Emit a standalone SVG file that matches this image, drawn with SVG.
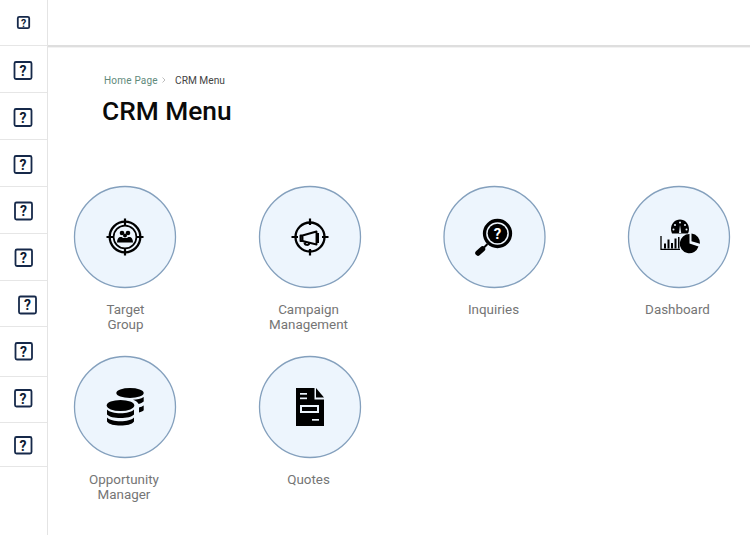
<svg xmlns="http://www.w3.org/2000/svg" width="750" height="535" viewBox="0 0 750 535">
<style>
text{font-family:Roboto,"Liberation Sans",sans-serif}
.sep{stroke:#e6e6e6;stroke-width:1}
.box{fill:#fff;stroke:#16294a;stroke-width:1.8}
.q{font-size:14px;font-weight:700;fill:#0d1b33;text-anchor:middle}
.disc{fill:#edf5fd;stroke:#84a0bd;stroke-width:1.3}
.lab{font-size:13.400px;fill:#757575;text-anchor:middle}
.k{fill:#000}
.o{fill:none;stroke:#000}
</style>
<rect width="750" height="535" fill="#fff"/>
<g id="chrome">
<rect x="47" y="0" width="1" height="535" fill="#e4e4e4"/>
<rect x="48" y="45" width="702" height="2" fill="#dedede"/>
<rect x="48" y="47" width="702" height="1" fill="#f2f2f2"/>
<path class="sep" d="M0 45.500H47M0 92.500H47M0 139.500H47M0 186.500H47M0 233.500H47M0 280.500H47M0 326.500H47M0 376.500H47M0 422.500H47M0 466.500H47"/>
</g>
<g id="sidebar">
<g id="s0"><rect class="box" x="17.800" y="16.800" width="11.400" height="11.400" rx="1.500" stroke-width="1.300"/><text x="23.500" y="26.500" class="q" style="font-size:10.500px">?</text></g>
<g id="s1"><rect class="box" x="14.500" y="62" width="17" height="17" rx="1.500"/><text x="23" y="75.500" class="q">?</text></g>
<g id="s2"><rect class="box" x="14.500" y="109" width="17" height="17" rx="1.500"/><text x="23" y="122.500" class="q">?</text></g>
<g id="s3"><rect class="box" x="14.500" y="156" width="17" height="17" rx="1.500"/><text x="23" y="169.500" class="q">?</text></g>
<g id="s4"><rect class="box" x="15" y="202.500" width="17" height="17" rx="1.500"/><text x="23.500" y="216" class="q">?</text></g>
<g id="s5"><rect class="box" x="15.500" y="249.500" width="16.500" height="16.500" rx="1.500"/><text x="23.500" y="262.500" class="q">?</text></g>
<g id="s6"><rect class="box" x="19" y="296.500" width="17" height="17" rx="1.500"/><text x="27.500" y="310" class="q">?</text></g>
<g id="s7"><rect class="box" x="15.500" y="343" width="16.500" height="16.500" rx="1.500"/><text x="23.500" y="356.500" class="q">?</text></g>
<g id="s8"><rect class="box" x="15" y="390" width="16.500" height="16.500" rx="1.500"/><text x="23" y="403.500" class="q">?</text></g>
<g id="s9"><rect class="box" x="15" y="437" width="16.500" height="16.500" rx="1.500"/><text x="23" y="450.500" class="q">?</text></g>
</g>
<g id="header">
<text x="104" y="83.500" font-size="10" fill="#5f8a7b" letter-spacing=".2">Home Page</text>
<path d="M162.500 77.500l2.500 2.500-2.500 2.500" fill="none" stroke="#b5b5b5" stroke-width=".9"/>
<text x="175" y="83.500" font-size="10.200" fill="#444">CRM Menu</text>
<text x="102" y="120" font-size="26.300" font-weight="500" fill="#0a0a0a">CRM Menu</text>
</g>
<g id="target-group">
<circle class="disc" cx="125" cy="237" r="50.500"/>
<g class="o"><circle cx="125" cy="237" r="15.300" stroke-width="2.300"/><circle cx="125" cy="237" r="11.400" stroke-width="1.700"/><path d="M125 218.500v7M125 248.500v7M106.500 237h7M136.500 237h7" stroke-width="2.200"/></g>
<g class="k"><circle cx="122" cy="233" r="2.300"/><circle cx="128" cy="233" r="2.300"/><circle cx="125" cy="235.500" r="2"/><path d="M117 242.500c0-3.500 1.500-5.500 3.500-5.500 1.500 0 2 .5 2.500 1h4c.5-.5 1-1 2.500-1 2 0 3.500 2 3.500 5.500z"/></g>
<text class="lab" x="125.500" y="314">Target</text><text class="lab" x="125.500" y="329">Group</text>
</g>
<g id="campaign-management">
<circle class="disc" cx="310" cy="237" r="50.500"/>
<g class="o"><circle cx="310" cy="237" r="14.500" stroke-width="2.300"/><path d="M310 218.500v6.500M310 249v6.500M291.500 237h6.500M322 237h6.500" stroke-width="2.200"/>
<path d="M302.500 235.500l14-4v13l-14-3.500zM302.500 235.500h-2v5.500h2M304.500 241.500c-.5 4 4.500 4.500 5 1.500" stroke-width="1.900" stroke-linejoin="round"/><path d="M318 233v10" stroke-width="2"/></g>
<text class="lab" x="308.500" y="314">Campaign</text><text class="lab" x="308.500" y="329">Management</text>
</g>
<g id="inquiries">
<circle class="disc" cx="494.500" cy="237" r="50.500"/>
<circle cx="497.500" cy="233.500" r="13" class="o" stroke-width="3.300"/>
<circle cx="497.500" cy="233.500" r="9.800" class="k"/>
<text x="497.500" y="239" text-anchor="middle" font-size="15" font-weight="700" fill="#fff">?</text>
<path class="o" d="M487.500 244l-3.500 3.500" stroke-width="2"/>
<path class="o" d="M478 253l4.500-4" stroke-width="5.500" stroke-linecap="round"/>
<text class="lab" x="493.500" y="314">Inquiries</text>
</g>
<g id="dashboard">
<circle class="disc" cx="679" cy="237" r="50.500"/>
<path class="k" d="M672 233.500a9.700 9.700 0 0 1-1-4.300c0-5.600 4-9.700 9-9.700s9 4.100 9 9.700c0 1.500-.4 3-1 4.300z"/>
<g fill="#edf5fd"><circle cx="680" cy="222.500" r="1"/><circle cx="675" cy="225" r="1"/><circle cx="685" cy="225" r="1"/><circle cx="673.500" cy="229.500" r="1"/><circle cx="686.500" cy="229.500" r="1"/><path d="M679 233l1-8 1.200 8z"/></g>
<path class="o" d="M661 236v13.300h19" stroke-width="1.300"/>
<path class="k" d="M664 243.500h2v5h-2zM667.500 239.500h2v9h-2zM671 243h2v5.500h-2zM674.500 238.500h2v10h-2zM678 237h1.500v11.500H678z"/>
<path class="k" d="M689.500 234a9.600 9.600 0 1 0 9 12.500l-9-3z"/>
<path class="k" d="M691.500 233.500a9.500 9.500 0 0 1 8.500 10.300l-8.500-2.500z"/>
<text class="lab" x="677.500" y="314">Dashboard</text>
</g>
<g id="opportunity-manager">
<circle class="disc" cx="125" cy="407" r="50.500"/>
<g class="k"><ellipse cx="130" cy="393" rx="13.700" ry="5"/><path d="M133 399.800c4 0 8-1 10.700-2.800v4.500c-1.500 1.200-3 2-5 2.500-1-1.800-3-3.500-5.700-4.200zM139 407.500c2-.4 3.500-1 4.700-1.900v4.600c-1 1-2.500 1.700-4.700 2.200z"/>
<ellipse cx="120.500" cy="405.500" rx="13.800" ry="5.500"/><path d="M107 409.500c2.500 2.500 7.500 3.700 13.500 3.700s11-1.200 13.500-3.700v5c-2 2.500-7.500 3.500-13.500 3.500s-11.500-1-13.500-3.500zM107 417.500c2.500 2.500 7.500 3.700 13.500 3.700s11-1.200 13.500-3.700v4c-2 3-7.500 4-13.500 4s-11.500-1-13.500-4z"/></g>
<text class="lab" x="124" y="484">Opportunity</text><text class="lab" x="124" y="499">Manager</text>
</g>
<g id="quotes">
<circle class="disc" cx="310" cy="407" r="50.500"/>
<path class="k" d="M296 388h18.500v11.500h9.500v26.500h-28z"/><path class="k" d="M316 388l8 9.500h-8z"/>
<g fill="#edf5fd"><rect x="300" y="393" width="7" height="1.700"/><rect x="300" y="397.500" width="7" height="1.700"/><rect x="312" y="419" width="7" height="1.700"/><path fill-rule="evenodd" d="M300 405h19v8h-19zM302 407v4h15v-4z"/></g>
<text class="lab" x="308.500" y="484">Quotes</text>
</g>
</svg>
